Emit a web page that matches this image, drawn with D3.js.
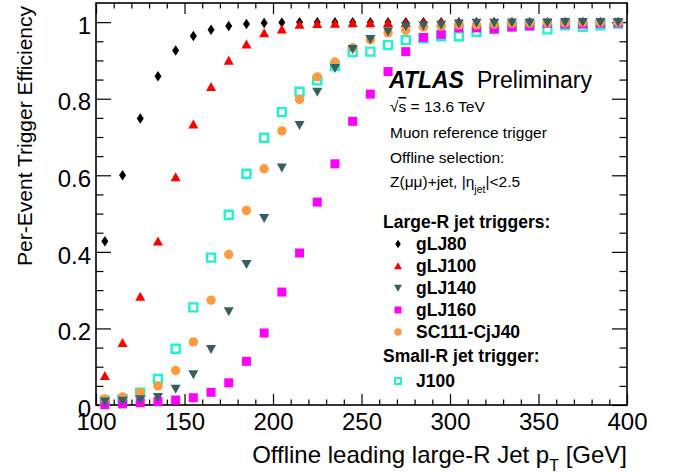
<!DOCTYPE html>
<html>
<head>
<meta charset="utf-8">
<script src="https://cdn.jsdelivr.net/npm/d3@7"></script>
<style>
  html, body { margin: 0; padding: 0; background: #fff; }
  svg { display: block; font-family: "Liberation Sans", Arial, Helvetica, sans-serif; }
</style>
</head>
<body>
<svg id="chart" width="673" height="474"></svg>
<script>
// ---------------- data ----------------
const ptBins = [105,115,125,135,145,155,165,175,185,195,205,215,225,235,245,255,265,275,285,295,305,315,325,335,345,355,365,375,385,395];

const gLJ80  = [0.428,0.600,0.748,0.859,0.926,0.964,0.980,0.990,0.995,0.998,0.999,1.000,1.000,1.000,1.000,1.000,1.000,1.000,1.000,1.000,1.000,1.000,1.000,1.000,1.000,1.000,1.000,1.000,1.000,1.000];
const gLJ100 = [0.076,0.162,0.283,0.427,0.595,0.733,0.831,0.899,0.942,0.971,0.981,0.993,0.995,0.996,0.997,0.997,0.998,0.998,0.998,0.999,0.999,0.999,0.999,1.000,1.000,1.000,1.000,1.000,1.000,1.000];
const gLJ140 = [0.009,0.011,0.015,0.021,0.042,0.080,0.146,0.245,0.368,0.488,0.620,0.731,0.818,0.880,0.930,0.956,0.976,0.989,0.991,0.993,0.996,0.998,0.998,0.999,0.999,0.999,1.000,1.000,1.000,1.000];
const gLJ160 = [0.001,0.003,0.006,0.009,0.013,0.019,0.033,0.058,0.114,0.188,0.295,0.397,0.530,0.630,0.741,0.812,0.871,0.923,0.960,0.968,0.985,0.985,0.982,0.987,0.990,0.997,0.995,0.995,0.997,0.998];
const sc111  = [0.016,0.021,0.033,0.050,0.090,0.165,0.274,0.393,0.508,0.617,0.716,0.798,0.857,0.896,0.933,0.954,0.972,0.979,0.987,0.989,0.993,0.993,0.995,0.996,0.997,0.998,0.998,0.999,0.999,1.000];
const j100   = [0.011,0.015,0.032,0.068,0.147,0.255,0.385,0.497,0.604,0.698,0.765,0.818,0.848,0.885,0.922,0.923,0.940,0.953,0.958,0.963,0.963,0.975,0.983,0.990,0.992,0.981,0.992,0.988,0.992,0.996];

const xTickLabels = ["100","150","200","250","300","350","400"];
const yTickLabels = ["0","0.2","0.4","0.6","0.8","1"];

const seriesNames = ["gLJ80","gLJ100","gLJ140","gLJ160","SC111-CjJ40","J100"];

// ---------------- layout ----------------
const svg = d3.select("#chart");
const L = 96, R = 627, T = 3, B = 405;
const x = d3.scaleLinear().domain([100, 400]).range([L, R]);
const y = d3.scaleLinear().domain([0, 1.05]).range([B, T]);

const col = {
  black: "#000000",
  red: "#ff0000",
  teal: "#356063",
  magenta: "#ff00ff",
  orange: "#fb9a3e",
  cyan: "#22f2d2"
};

// marker shapes (relative paths)
function diamond(w, h) { return `M0,${-h/2}L${w/2},0L0,${h/2}L${-w/2},0Z`; }
function triUp(w, h) { return `M0,${-h*0.55}L${w/2},${h*0.45}L${-w/2},${h*0.45}Z`; }
function triDown(w, h) { return `M0,${h*0.55}L${w/2},${-h*0.45}L${-w/2},${-h*0.45}Z`; }
function sq(s) { return `M${-s/2},${-s/2}h${s}v${s}h${-s}Z`; }
function circ(r) { return `M${r},0A${r},${r},0,1,1,${-r},0A${r},${r},0,1,1,${r},0Z`; }

const styles = {
  "gLJ80":       { d: diamond(7, 10.5), fill: col.black, stroke: "none", sw: 0, ld: diamond(5.5, 8.5) },
  "gLJ100":      { d: triUp(10, 9), fill: col.red, stroke: "none", sw: 0, ld: triUp(8, 7) },
  "gLJ140":      { d: triDown(10, 9), fill: col.teal, stroke: "none", sw: 0, ld: triDown(8, 7) },
  "gLJ160":      { d: sq(9), fill: col.magenta, stroke: "none", sw: 0, ld: sq(7) },
  "SC111-CjJ40": { d: circ(4.7), fill: col.orange, stroke: "none", sw: 0, ld: circ(3.7) },
  "J100":        { d: sq(8), fill: "none", stroke: col.cyan, sw: 2.4, ld: sq(6) }
};

const seriesData = {
  "gLJ80": gLJ80, "gLJ100": gLJ100, "gLJ140": gLJ140,
  "gLJ160": gLJ160, "SC111-CjJ40": sc111, "J100": j100
};

// ---------------- axes ----------------
const fsTick = 24;
const xMajor = [100,150,200,250,300,350,400];
const xMinor = x.ticks(30).filter(v => !xMajor.includes(v));
const yMajor = [0,0.2,0.4,0.6,0.8,1.0];
const yMinor = d3.range(0, 21).map(i => i * 0.05).filter(v => !yMajor.some(m => Math.abs(m - v) < 1e-9));

// bottom
const gB = svg.append("g").attr("transform", `translate(0,${B})`);
gB.call(d3.axisBottom(x).tickValues(xMajor).tickSize(-11).tickPadding(8)
  .tickFormat((d, i) => xTickLabels[i]));
gB.append("g").call(d3.axisBottom(x).tickValues(xMinor).tickSize(-5.5).tickFormat(""));
// top
const gT = svg.append("g").attr("transform", `translate(0,${T})`);
gT.call(d3.axisTop(x).tickValues(xMajor).tickSize(-11).tickFormat(""));
gT.append("g").call(d3.axisTop(x).tickValues(xMinor).tickSize(-5.5).tickFormat(""));
// left
const gL = svg.append("g").attr("transform", `translate(${L},0)`);
gL.call(d3.axisLeft(y).tickValues(yMajor).tickSize(-15).tickPadding(5)
  .tickFormat((d, i) => yTickLabels[i]));
gL.append("g").call(d3.axisLeft(y).tickValues(yMinor).tickSize(-7.5).tickFormat(""));
// right
const gR = svg.append("g").attr("transform", `translate(${R},0)`);
gR.call(d3.axisRight(y).tickValues(yMajor).tickSize(-15).tickFormat(""));
gR.append("g").call(d3.axisRight(y).tickValues(yMinor).tickSize(-7.5).tickFormat(""));

svg.selectAll(".domain").remove();
svg.selectAll(".tick line").attr("stroke", "#000").attr("stroke-width", 1.2);
svg.selectAll(".tick text").attr("fill", "#000").attr("font-size", fsTick)
  .attr("font-family", "Liberation Sans, Arial, sans-serif");
gL.selectAll(".tick text").attr("dy", "0.47em");

// frame
svg.append("rect").attr("x", L).attr("y", T).attr("width", R - L).attr("height", B - T)
  .attr("fill", "none").attr("stroke", "#000").attr("stroke-width", 1.6);

// ---------------- markers ----------------
const drawOrder = ["gLJ80", "gLJ100", "J100", "gLJ160", "SC111-CjJ40", "gLJ140"];
drawOrder.forEach(name => {
  const st = styles[name];
  const vals = seriesData[name];
  svg.append("g").attr("class", "series")
    .selectAll("path")
    .data(ptBins.map((p, i) => ({ p, v: vals[i] })))
    .join("path")
    .attr("transform", d => `translate(${x(d.p)},${y(d.v)})`)
    .attr("d", st.d)
    .attr("fill", st.fill)
    .attr("stroke", st.stroke)
    .attr("stroke-width", st.sw);
});

// ---------------- titles ----------------
const xt = svg.append("text").attr("x", R).attr("y", 463).attr("text-anchor", "end")
  .attr("font-size", 24).attr("fill", "#000");
xt.append("tspan").text("Offline leading large-R Jet p");
xt.append("tspan").attr("font-size", 16).attr("dy", 8).text("T");
xt.append("tspan").attr("dy", -8).text(" [GeV]");

svg.append("text").attr("transform", `translate(32,6) rotate(-90)`)
  .attr("text-anchor", "end").attr("font-size", 21).attr("fill", "#000")
  .text("Per-Event Trigger Efficiency");

// ---------------- labels ----------------
const atlas = svg.append("text").attr("x", 389).attr("y", 88).attr("font-size", 23).attr("fill", "#000");
atlas.append("tspan").attr("font-weight", "bold").attr("font-style", "italic").text("ATLAS");
svg.append("text").attr("x", 477).attr("y", 88).attr("font-size", 23).attr("fill", "#000").text("Preliminary");

const fsInfo = 15.5;
const sq13 = svg.append("text").attr("x", 390).attr("y", 112).attr("font-size", fsInfo).attr("fill", "#000");
sq13.append("tspan").text("√");
sq13.append("tspan").attr("text-decoration", "overline").text("s");
sq13.append("tspan").text(" = 13.6 TeV");

svg.append("text").attr("x", 390).attr("y", 138).attr("font-size", fsInfo).attr("fill", "#000")
  .text("Muon reference trigger");
svg.append("text").attr("x", 390).attr("y", 163).attr("font-size", fsInfo).attr("fill", "#000")
  .text("Offline selection:");
const zt = svg.append("text").attr("x", 390).attr("y", 187).attr("font-size", fsInfo).attr("fill", "#000");
zt.append("tspan").text("Z(μμ)+jet, |η");
zt.append("tspan").attr("font-size", 10.5).attr("dy", 6).text("jet");
zt.append("tspan").attr("dy", -6).text("|<2.5");

// legend
const fsLeg = 17.5;
svg.append("text").attr("x", 383).attr("y", 228).attr("font-size", fsLeg).attr("font-weight", "bold")
  .attr("fill", "#000").text("Large-R jet triggers:");
svg.append("text").attr("x", 383).attr("y", 362).attr("font-size", fsLeg).attr("font-weight", "bold")
  .attr("fill", "#000").text("Small-R jet trigger:");

const legRows = [
  { name: "gLJ80", yb: 250 },
  { name: "gLJ100", yb: 272 },
  { name: "gLJ140", yb: 294 },
  { name: "gLJ160", yb: 316 },
  { name: "SC111-CjJ40", yb: 338 },
  { name: "J100", yb: 387 }
];
const leg = svg.append("g").attr("class", "legend");
legRows.forEach(r => {
  const st = styles[r.name];
  leg.append("path").attr("transform", `translate(398,${r.yb - 6})`)
    .attr("d", st.ld).attr("fill", st.fill).attr("stroke", st.stroke)
    .attr("stroke-width", st.sw ? 2 : 0);
  leg.append("text").attr("x", 416).attr("y", r.yb).attr("font-size", fsLeg)
    .attr("font-weight", "bold").attr("fill", "#000").text(r.name);
});
</script>
</body>
</html>
